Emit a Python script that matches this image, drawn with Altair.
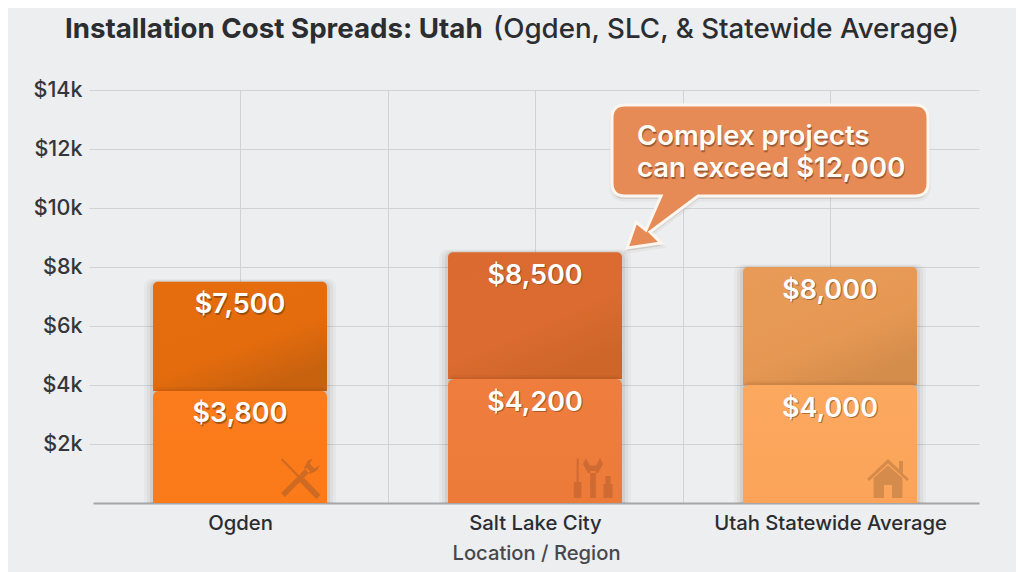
import math
import altair as alt
import pandas as pd

categories = ["Ogden", "Salt Lake City", "Utah Statewide Average"]
low_values = [3800, 4200, 4000]
high_values = [7500, 8500, 8000]
y_ticks = [2000, 4000, 6000, 8000, 10000, 12000, 14000]
x_ticks = [0, 0.5, 1, 1.5, 2]
title_bold = "Installation Cost Spreads: Utah"
title_rest = "(Ogden, SLC, & Statewide Average)"
callout_lines = ["Complex projects", "can exceed $12,000"]
x_title = "Location / Region"

high_stops = [("#E56D0D", "#E56C0D", "#C8620F"), ("#DA6A2F", "#DB6B30", "#CE6629"), ("#E89B58", "#E69853", "#D58D4C")]
low_fills = [("#FB7C1C", "#FB7A1A"), ("#EF7D3E", "#EC7A38"), ("#FCA85F", "#FBA459")]
icon_colors = ["#CE6A22", "#CF6A32", "#D58B4B"]

W, H = 886, 413
STEP = 295
HALF = 87 / STEP
FONT = "Inter"
TEXT_DARK = "#2B2D30"

def px(x):
    return x - 93

def py(y):
    return y - 90

def seg(x1, y1, x2, y2, w):
    d = math.hypot(x2 - x1, y2 - y1)
    nx, ny = -(y2 - y1) / d * w / 2, (x2 - x1) / d * w / 2
    return (f"M{x1+nx:.3f},{y1+ny:.3f}L{x2+nx:.3f},{y2+ny:.3f}"
            f"L{x2-nx:.3f},{y2-ny:.3f}L{x1-nx:.3f},{y1-ny:.3f}Z")

icon_tools = (
    seg(-0.92, -0.95, 0.1, 0.1, 0.11) + seg(0.1, 0.1, 0.92, 0.95, 0.3)
    + seg(-0.85, 0.85, 0.42, -0.42, 0.27)
    + "M0.2,-0.5L0.38,-0.85L0.65,-1L0.48,-0.72L0.72,-0.48L1,-0.65L0.85,-0.38L0.5,-0.2Z"
)
icon_kit = (
    seg(-0.82, -0.98, -0.82, 0.2, 0.1) + seg(-0.82, 0.2, -0.82, 1, 0.38)
    + seg(-0.05, -0.35, -0.05, 1, 0.28)
    + "M-0.4,-1L-0.22,-0.62L0.12,-0.62L0.3,-1L0.45,-0.7L0.2,-0.25L-0.3,-0.25L-0.55,-0.7Z"
    + seg(0.7, -0.1, 0.7, 0.3, 0.25) + seg(0.7, 0.3, 0.7, 1, 0.45)
)
icon_house = (
    "M0,-0.95L0.55,-0.42L0.55,-0.85L0.75,-0.85L0.75,-0.22L1.05,0.05L0.95,0.15L0,-0.72L-0.95,0.15L-1.05,0.05Z"
    "M-0.72,0L0,-0.62L0.72,0L0.72,1L0.2,1L0.2,0.35L-0.2,0.35L-0.2,1L-0.72,1Z"
)
icon_paths = [icon_tools, icon_kit, icon_house]
icon_centers = [(300, 478), (594, 478), (888, 478)]

def callout_path(cx, cy, unit):
    x0, x1, y0, y1, r = 612, 928, 105, 196, 13
    pts = [
        ("M", x0 + r, y0), ("L", x1 - r, y0), ("Q", x1, y0, x1, y0 + r),
        ("L", x1, y1 - r), ("Q", x1, y1, x1 - r, y1),
        ("L", 698, y1), ("L", 650, 232), ("L", 661, 243), ("L", 627, 248),
        ("L", 636, 222), ("L", 646, 230), ("L", 661, y1),
        ("L", x0 + r, y1), ("Q", x0, y1, x0, y1 - r),
        ("L", x0, y0 + r), ("Q", x0, y0, x0 + r, y0),
    ]
    out = ""
    for p in pts:
        vals = p[1:]
        parts = []
        for i in range(0, len(vals), 2):
            parts.append(f"{(vals[i]-cx)/unit:.4f},{(vals[i+1]-cy)/unit:.4f}")
        out += p[0] + " ".join(parts)
    return out + "Z"

x_scale = alt.Scale(domain=[-147 / STEP, (W - 147) / STEP], nice=False, zero=False)
y_scale = alt.Scale(domain=[0, 14000], nice=False)

label_expr = ("datum.value == 0 ? '%s' : datum.value == 1 ? '%s' : datum.value == 2 ? '%s' : ''"
              % tuple(categories))

base_axes = alt.Chart(pd.DataFrame({"x": [0], "y": [0]})).mark_point(opacity=0).encode(
    x=alt.X("x:Q", scale=x_scale, axis=alt.Axis(
        values=x_ticks, labelExpr=label_expr, title=x_title, grid=True, gridColor="#CFD2D7",
        gridWidth=1, domainColor="#A4A6A9", domainWidth=2, ticks=False, labelFont=FONT,
        labelFontSize=20.3, labelFontWeight=500, labelColor=TEXT_DARK, labelPadding=10, labelLimit=400,
        titleFont=FONT, titleFontSize=20.2, titleFontWeight=500, titleColor="#46484C",
        titlePadding=10, labelOverlap=False)),
    y=alt.Y("y:Q", scale=y_scale, axis=alt.Axis(
        values=y_ticks, labelExpr="'$' + datum.value / 1000 + 'k'", title=None, grid=True,
        gridColor="#CFD2D7", gridWidth=1, domain=False, ticks=True, tickColor="#CFD2D7", tickSize=4,
        labelFont=FONT, labelFontSize=21.5, labelFontWeight=500, labelColor="#34363A", labelPadding=7)),
)

layers = [base_axes]
for i, cat in enumerate(categories):
    hi, lo = high_values[i], low_values[i]
    # soft shadows
    for k, op in [(9, 0.04), (6, 0.06), (3, 0.09)]:
        df = pd.DataFrame({"a": [i - HALF - k / STEP], "b": [i + HALF + k / STEP], "y0": [0], "y1": [hi + k * 14000 / H * 0.3]})
        layers.append(alt.Chart(df).mark_rect(color="#5A4030", opacity=op, cornerRadiusTopLeft=8, cornerRadiusTopRight=8).encode(
            x=alt.X("a:Q", scale=x_scale), x2="b:Q", y=alt.Y("y0:Q", scale=y_scale), y2="y1:Q"))
    df = pd.DataFrame({"a": [i - HALF], "b": [i + HALF], "y0": [lo], "y1": [hi]})
    s = high_stops[i]
    grad = alt.Gradient(gradient="linear", x1=0, y1=0, x2=0.6, y2=1, stops=[
        alt.GradientStop(offset=0, color=s[0]), alt.GradientStop(offset=0.65, color=s[1]),
        alt.GradientStop(offset=1, color=s[2])])
    layers.append(alt.Chart(df).mark_rect(color=grad, cornerRadiusTopLeft=5, cornerRadiusTopRight=5).encode(
        x=alt.X("a:Q", scale=x_scale), x2="b:Q", y=alt.Y("y0:Q", scale=y_scale), y2="y1:Q"))
    # shadow of lower bar on upper bar
    for k, op in [(4, 0.05), (2, 0.07)]:
        df2 = pd.DataFrame({"a": [i - HALF], "b": [i + HALF], "y0": [0], "y1": [lo + k * 14000 / H]})
        layers.append(alt.Chart(df2).mark_rect(color="#5A3010", opacity=op, cornerRadiusTopLeft=6, cornerRadiusTopRight=6).encode(
            x=alt.X("a:Q", scale=x_scale), x2="b:Q", y=alt.Y("y0:Q", scale=y_scale), y2="y1:Q"))
    df3 = pd.DataFrame({"a": [i - HALF], "b": [i + HALF], "y0": [0], "y1": [lo]})
    f = low_fills[i]
    grad2 = alt.Gradient(gradient="linear", x1=0, y1=0, x2=0, y2=1, stops=[
        alt.GradientStop(offset=0, color=f[0]), alt.GradientStop(offset=1, color=f[1])])
    layers.append(alt.Chart(df3).mark_rect(color=grad2, cornerRadiusTopLeft=6, cornerRadiusTopRight=6).encode(
        x=alt.X("a:Q", scale=x_scale), x2="b:Q", y=alt.Y("y0:Q", scale=y_scale), y2="y1:Q"))
    # icon
    cx, cy = icon_centers[i]
    layers.append(alt.Chart(pd.DataFrame({"v": [0]})).mark_point(
        shape=icon_paths[i], size=1600, filled=True, fill=icon_colors[i], opacity=1, strokeWidth=0
    ).encode(x=alt.value(px(cx)), y=alt.value(py(cy))))
    # value labels
    for v in (hi, lo):
        t = f"${v:,}"
        dfl = pd.DataFrame({"x": [i], "y": [v], "t": [t]})
        for dx, dy, col, op in [(1, 25, "#6B3A10", 0.5), (0.5, 24.2, "#6B3A10", 0.3), (0, 23.5, "#FFFFFF", 1)]:
            layers.append(alt.Chart(dfl).mark_text(
                font=FONT, fontSize=27, fontWeight=600, color=col, opacity=op, dx=dx, dy=dy, baseline="middle"
            ).encode(x=alt.X("x:Q", scale=x_scale), y=alt.Y("y:Q", scale=y_scale), text="t:N"))

# callout
ccx, ccy, unit = 770, 175, 200
callout_shape = callout_path(ccx, ccy, unit)
one = pd.DataFrame({"v": [0]})
layers.append(alt.Chart(one).mark_point(
    shape=callout_path(ccx, ccy - 3, unit), size=(2 * unit) ** 2, filled=True, fill="#6E5A4A", opacity=0.22, strokeWidth=5, stroke="#6E5A4A", strokeOpacity=0.25
).encode(x=alt.value(px(ccx)), y=alt.value(py(ccy))))
layers.append(alt.Chart(one).mark_point(
    shape=callout_shape, size=(2 * unit) ** 2, filled=True, fill="#E68A56", stroke="#FBF6EF", strokeWidth=3, opacity=1
).encode(x=alt.value(px(ccx)), y=alt.value(py(ccy))))
for line, y in zip(callout_lines, (137, 169)):
    d = pd.DataFrame({"t": [line]})
    for off, col, op in [(1.6, "#6E3C1C", 0.5), (0.8, "#6E3C1C", 0.3), (0, "#FFFDF8", 1)]:
        layers.append(alt.Chart(d).mark_text(
            font=FONT, fontSize=27.5, fontWeight=600, color=col, opacity=op, align="left", baseline="middle"
        ).encode(x=alt.value(px(637) + off * 0.5), y=alt.value(py(y) + off), text="t:N"))

# title
layers.append(alt.Chart(pd.DataFrame({"t": [title_bold]})).mark_text(
    font=FONT, fontSize=27.7, fontWeight=700, color=TEXT_DARK, align="left", baseline="middle"
).encode(x=alt.value(px(65)), y=alt.value(py(30)), text="t:N"))
layers.append(alt.Chart(pd.DataFrame({"t": [title_rest]})).mark_text(
    font=FONT, fontSize=27.7, fontWeight=500, color=TEXT_DARK, align="left", baseline="middle"
).encode(x=alt.value(px(493)), y=alt.value(py(30)), text="t:N"))

chart = alt.layer(*layers).properties(
    width=W, height=H, background="#ECEEF0",
    padding={"left": 85, "top": 82, "right": 37, "bottom": 69},
    autosize=alt.AutoSizeParams(type="none"),
).configure_view(stroke=None)

chart.save("out.html", embed_options={"renderer": "svg", "actions": False})
